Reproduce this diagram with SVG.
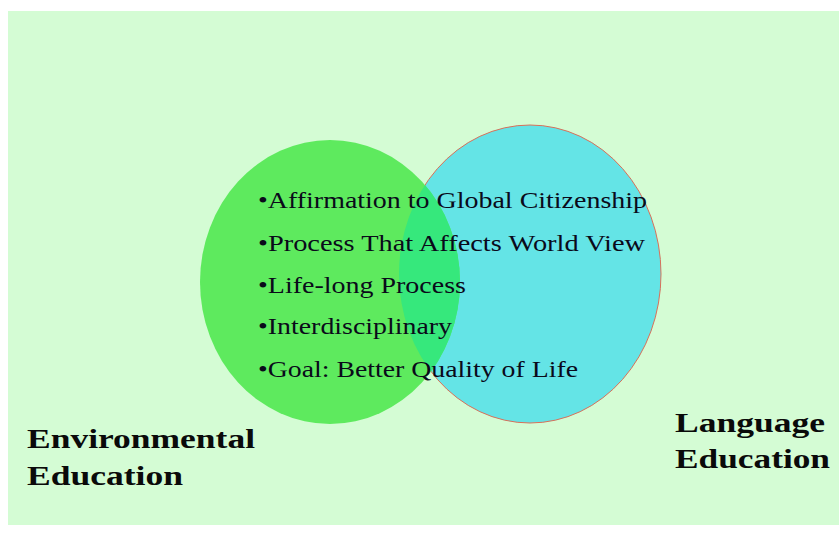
<svg xmlns="http://www.w3.org/2000/svg" width="839" height="533" viewBox="0 0 839 533">
<defs>
<style>
.item{font-family:"Liberation Serif","Times New Roman",serif;font-size:23.5px;fill:#0a0a1a}
.lbl{font-family:"Liberation Serif","Times New Roman",serif;font-size:27px;font-weight:bold;fill:#0a0a0a}
</style>
<clipPath id="cy"><ellipse cx="530" cy="274" rx="131" ry="149"/></clipPath>
</defs>
<rect x="0" y="0" width="839" height="533" fill="#ffffff"/>
<rect x="8" y="11" width="831" height="514" fill="#d4fcd4"/>
<g id="language">
<ellipse cx="530" cy="274" rx="131" ry="149" fill="#64e4e6" stroke="#d8705a" stroke-width="1"/>
</g>
<g id="environmental">
<ellipse cx="330" cy="282" rx="130" ry="142" fill="#5eea5e"/>
<ellipse cx="330" cy="282" rx="130" ry="142" fill="#36e87c" clip-path="url(#cy)"/>
</g>
<g id="items">
<text class="item" x="258" y="208" textLength="389" lengthAdjust="spacingAndGlyphs">•Affirmation to Global Citizenship</text>
<text class="item" x="258" y="251" textLength="387" lengthAdjust="spacingAndGlyphs">•Process That Affects World View</text>
<text class="item" x="258" y="293" textLength="208" lengthAdjust="spacingAndGlyphs">•Life-long Process</text>
<text class="item" x="258" y="334" textLength="194" lengthAdjust="spacingAndGlyphs">•Interdisciplinary</text>
<text class="item" x="258" y="377" textLength="320" lengthAdjust="spacingAndGlyphs">•Goal: Better Quality of Life</text>
</g>
<g id="label-env">
<text class="lbl" x="27" y="448" textLength="228" lengthAdjust="spacingAndGlyphs">Environmental</text>
<text class="lbl" x="27" y="485" textLength="156" lengthAdjust="spacingAndGlyphs">Education</text>
</g>
<g id="label-lang">
<text class="lbl" x="675" y="432" textLength="150" lengthAdjust="spacingAndGlyphs">Language</text>
<text class="lbl" x="675" y="468" textLength="155" lengthAdjust="spacingAndGlyphs">Education</text>
</g>
</svg>
